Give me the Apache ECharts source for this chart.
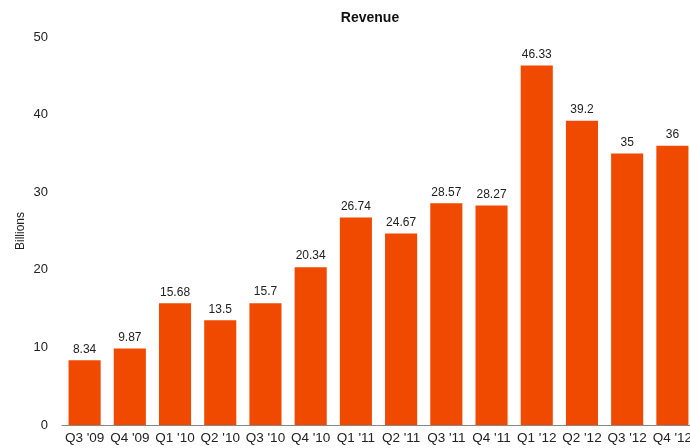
<!DOCTYPE html>
<html><head><meta charset="utf-8">
<script src="https://cdn.jsdelivr.net/npm/echarts@6/dist/echarts.min.js"></script>
<style>html,body{margin:0;padding:0;background:#fff}#c{width:690px;height:448px}</style>
</head><body><div id="c"></div>
<script>
const categories = ["Q3 '09","Q4 '09","Q1 '10","Q2 '10","Q3 '10","Q4 '10","Q1 '11","Q2 '11","Q3 '11","Q4 '11","Q1 '12","Q2 '12","Q3 '12","Q4 '12"];
const revenue = [8.34, 9.87, 15.68, 13.5, 15.7, 20.34, 26.74, 24.67, 28.57, 28.27, 46.33, 39.2, 35, 36];
const chart = echarts.init(document.getElementById('c'));
const font = 'Liberation Sans, Arial, Helvetica, sans-serif';
chart.setOption({
  animation: false,
  title: { text: 'Revenue', left: 365, top: 6, textAlign: 'center',
    textStyle: { fontFamily: font, fontSize: 14, fontWeight: 'bold', color: '#111' } },
  grid: { left: 62, top: 37, right: -5, bottom: 23, containLabel: false, outerBoundsMode: 'none' },
  xAxis: { type: 'category', data: categories,
    axisLine: { lineStyle: { color: '#888', width: 1 } },
    axisTick: { show: false },
    axisLabel: { fontFamily: font, fontSize: 13.5, color: '#222', margin: 6, interval: 0 } },
  yAxis: { type: 'value', min: 0, max: 50, interval: 10,
    name: 'Billions', nameLocation: 'middle', nameGap: 35, nameMoveOverlap: false,
    nameTextStyle: { fontFamily: font, fontSize: 12, color: '#222' },
    axisLine: { show: false }, axisTick: { show: false }, splitLine: { show: false },
    axisLabel: { fontFamily: font, fontSize: 13, color: '#222', margin: 14 } },
  series: [{ type: 'bar', data: revenue, barCategoryGap: '29%',
    itemStyle: { color: '#F04A00' },
    label: { show: true, position: 'top', distance: 5, fontFamily: font, fontSize: 12, color: '#222' } }]
});
</script></body></html>
